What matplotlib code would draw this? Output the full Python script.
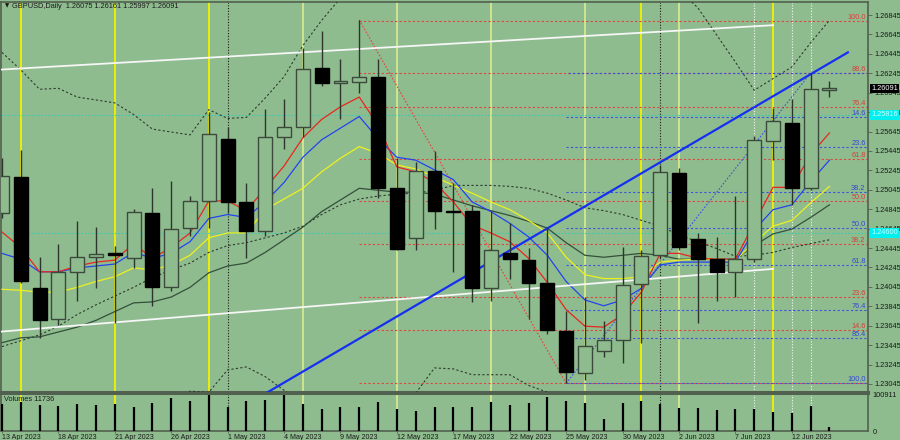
import numpy as np
import matplotlib
matplotlib.use('Agg')
import matplotlib.pyplot as plt

plt.rcParams['font.family'] = ['Liberation Sans', 'DejaVu Sans']

# ---- data (GBPUSD daily, 13 Apr - 14 Jun 2023) ----
opens = [1.24806, 1.25177, 1.24034, 1.23714, 1.24198, 1.24353, 1.24394, 1.24343, 1.24806, 1.24044,
         1.24652, 1.24930, 1.25568, 1.24919, 1.24621, 1.25589, 1.25692, 1.26300, 1.26145, 1.26155,
         1.26207, 1.25064, 1.24549, 1.25239, 1.24827, 1.24827, 1.24034, 1.24394, 1.24322, 1.24085,
         1.23591, 1.23158, 1.23385, 1.23498, 1.24075, 1.24374, 1.25218, 1.24538, 1.24332, 1.24198,
         1.24332, 1.25548, 1.25733, 1.25064, 1.26075]
highs = [1.25373, 1.25455, 1.24353, 1.24487, 1.24724, 1.24662, 1.24466, 1.24847, 1.25064, 1.25136,
         1.24981, 1.25846, 1.25692, 1.25115, 1.25877, 1.25980, 1.26506, 1.26681, 1.26392, 1.26794,
         1.26392, 1.25373, 1.25331, 1.25445, 1.25115, 1.24889, 1.24827, 1.24703, 1.24446, 1.24662,
         1.23797, 1.23941, 1.23694, 1.24456, 1.24425, 1.25301, 1.25270, 1.24601, 1.24559, 1.24981,
         1.25599, 1.25888, 1.25980, 1.26248, 1.26161]
lows = [1.24755, 1.24085, 1.23519, 1.23653, 1.23900, 1.24034, 1.23673, 1.24240, 1.23848, 1.24003,
        1.24569, 1.24652, 1.24806, 1.24343, 1.24569, 1.25465, 1.25589, 1.26114, 1.25774, 1.26042,
        1.24961, 1.24425, 1.24425, 1.24641, 1.24198, 1.23889, 1.23900, 1.24126, 1.23714, 1.23560,
        1.23051, 1.23086, 1.23323, 1.23261, 1.23467, 1.24343, 1.24425, 1.23673, 1.23900, 1.23941,
        1.24301, 1.25352, 1.24889, 1.25043, 1.25997]
closes = [1.25187, 1.24106, 1.23704, 1.24198, 1.24353, 1.24384, 1.24374, 1.24816, 1.24044, 1.24641,
          1.24930, 1.25620, 1.24919, 1.24621, 1.25589, 1.25692, 1.26289, 1.26145, 1.26166, 1.26207,
          1.25064, 1.24435, 1.25239, 1.24827, 1.24816, 1.24034, 1.24425, 1.24332, 1.24085, 1.23601,
          1.23168, 1.23436, 1.23498, 1.24065, 1.24363, 1.25228, 1.24456, 1.24332, 1.24198, 1.24332,
          1.25558, 1.25754, 1.25064, 1.26083, 1.26091]
volumes = [75700, 81300, 72900, 70100, 75700, 72900, 75700, 67300, 78500, 92500,
           84100, 100200, 67300, 84100, 86900, 100911, 75700, 61700, 67300, 67300,
           81300, 61700, 56100, 67300, 67300, 67300, 81300, 72900, 78500, 95300,
           84100, 78500, 33600, 78500, 84100, 75700, 64500, 64500, 58900, 61700,
           61700, 53300, 50500, 70100, 11736]

ma_red = [1.2461, 1.2445, 1.2420, 1.2420, 1.2426, 1.2430, 1.2432, 1.2449, 1.2434, 1.2445,
          1.2460, 1.2493, 1.2493, 1.2483, 1.2506, 1.2529, 1.2558, 1.2577, 1.2590, 1.2600,
          1.2571, 1.2528, 1.2523, 1.2512, 1.2492, 1.2468, 1.2460, 1.2451, 1.2434, 1.2409,
          1.2381, 1.2364, 1.2363, 1.2376, 1.2399, 1.2439, 1.2439, 1.2434, 1.2433, 1.2433,
          1.2470, 1.2507, 1.2507, 1.2541, 1.2563]
ma_blue = [1.2439, 1.2433, 1.2420, 1.2420, 1.2424, 1.2426, 1.2428, 1.2440, 1.2434, 1.2439,
           1.2451, 1.2475, 1.2479, 1.2476, 1.2492, 1.2512, 1.2538, 1.2556, 1.2568, 1.2580,
           1.2557, 1.2538, 1.2535, 1.2525, 1.2515, 1.2492, 1.2482, 1.2470, 1.2456, 1.2437,
           1.2410, 1.2391, 1.2385, 1.2391, 1.2403, 1.2427, 1.2430, 1.2430, 1.2430, 1.2430,
           1.2463, 1.2484, 1.2489, 1.2513, 1.2535]
ma_yellow = [1.2402, 1.2401, 1.2399, 1.2399, 1.2404, 1.2410, 1.2415, 1.2424, 1.2422, 1.2427,
             1.2437, 1.2455, 1.2460, 1.2460, 1.2484, 1.2495, 1.2506, 1.2523, 1.2537, 1.2549,
             1.2542, 1.2530, 1.2526, 1.2518, 1.2509, 1.2501, 1.2492, 1.2484, 1.2473, 1.2460,
             1.2435, 1.2417, 1.2413, 1.2413, 1.2415, 1.2430, 1.2432, 1.2433, 1.2433, 1.2432,
             1.2450, 1.2467, 1.2473, 1.2491, 1.2508]
ma_slow = [1.2347, 1.2352, 1.2353, 1.2358, 1.2363, 1.2370, 1.2379, 1.2388, 1.2389, 1.2394,
           1.2404, 1.2419, 1.2426, 1.2429, 1.2440, 1.2453, 1.2466, 1.2482, 1.2494, 1.2506,
           1.2504, 1.2502, 1.2502, 1.2500, 1.2494, 1.2488, 1.2483, 1.2478, 1.2472, 1.2465,
           1.2450, 1.2437, 1.2435, 1.2437, 1.2439, 1.2437, 1.2433, 1.2433, 1.2433, 1.2433,
           1.2447, 1.2459, 1.2464, 1.2476, 1.2489]
bb_mid = [1.2343, 1.2349, 1.2355, 1.2364, 1.2376, 1.2386, 1.2395, 1.2404, 1.2414, 1.2422,
          1.2429, 1.2440, 1.2447, 1.2450, 1.2455, 1.2460, 1.2467, 1.2479, 1.2489, 1.2495,
          1.2498, 1.2500, 1.2501, 1.2504, 1.2509, 1.2509, 1.2509, 1.2508, 1.2506, 1.2501,
          1.2494, 1.2486, 1.2483, 1.2479, 1.2473, 1.2467, 1.2458, 1.2451, 1.2444, 1.2436,
          1.2437, 1.2440, 1.2445, 1.2449, 1.2453]
bb_up = [1.2646, 1.2628, 1.2608, 1.2609, 1.2600, 1.2597, 1.2594, 1.2582, 1.2567, 1.2564,
         1.2561, 1.2587, 1.2578, 1.2579, 1.2599, 1.2621, 1.2653, 1.2679, 1.2702, 1.2712,
         1.2715, 1.2715, 1.2712, 1.2708, 1.2705, 1.2705, 1.2706, 1.2706, 1.2710, 1.2721,
         1.2736, 1.2746, 1.2746, 1.2741, 1.2736, 1.2726, 1.2710, 1.2692, 1.2664, 1.2636,
         1.2607, 1.2619, 1.2631, 1.2656, 1.2679]
bb_low = [1.2039, 1.2070, 1.2102, 1.2119, 1.2151, 1.2175, 1.2196, 1.2227, 1.2260, 1.2280,
          1.2297, 1.2296, 1.2319, 1.2322, 1.2312, 1.2298, 1.2282, 1.2278, 1.2276, 1.2278,
          1.2283, 1.2290, 1.2295, 1.2321, 1.2320, 1.2314, 1.2314, 1.2314, 1.2303, 1.2296,
          1.2252, 1.2225, 1.2219, 1.2216, 1.2211, 1.2209, 1.2206, 1.2210, 1.2223, 1.2237,
          1.2267, 1.2262, 1.2258, 1.2242, 1.2226]

date_ticks = [0, 3, 6, 9, 12, 15, 18, 21, 24, 27, 30, 33, 36, 39, 42]
date_labels = ['13 Apr 2023', '18 Apr 2023', '21 Apr 2023', '26 Apr 2023', '1 May 2023',
               '4 May 2023', '9 May 2023', '12 May 2023', '17 May 2023', '22 May 2023',
               '25 May 2023', '30 May 2023', '2 Jun 2023', '7 Jun 2023', '12 Jun 2023']
price_ticks = [1.26845, 1.26645, 1.26445, 1.26245, 1.26045, 1.25845, 1.25645, 1.25445, 1.25245,
               1.25045, 1.24845, 1.24645, 1.24445, 1.24245, 1.24045, 1.23845, 1.23645, 1.23445,
               1.23245, 1.23045]

# fibonacci retracements (labels and levels as read on the chart)
red_fib_labels = ['100.0', '88.6', '76.4', '61.8', '50.0', '38.2', '23.6', '14.6']
red_fib_prices = [1.26784, 1.26248, 1.25898, 1.25362, 1.24930, 1.24487, 1.23941, 1.23601]
blue_fib_labels = ['14.6', '23.6', '38.2', '50.0', '61.8', '76.4', '85.4', '100.0']
blue_fib_prices = [1.25795, 1.25486, 1.25022, 1.24652, 1.24271, 1.23807, 1.23519, 1.23051]
red_fib_swing = ([19, 30], [1.26794, 1.23051])
blue_fib_swing = ([30, 43], [1.23051, 1.26248])

# trend lines / channel
blue_trend = ([14.13, 44.98], [1.2296, 1.2646])
white_upper = ([-0.3, 41], [1.2628, 1.2674])
white_lower = ([-0.3, 41], [1.2358, 1.2423])
cyan_levels = [1.25816, 1.24600]

# vertical markers
yellow_bright = [1, 6, 11, 34, 41]
yellow_pale = [16, 21, 26, 31, 36]
month_sep = [12, 35]
white_marks = [40, 42, 43]

BG = '#8fbc8f'
FRAME = '#52614f'
DARK = '#2e3a2e'

W, H = 900, 440
fig = plt.figure(figsize=(9, 4.4), dpi=100)
fig.patch.set_facecolor(BG)
ax = fig.add_axes([1 / W, 1 - 392 / H, 867 / W, 390 / H])
axv = fig.add_axes([1 / W, 1 - 431 / H, 867 / W, 38 / H], sharex=ax)

x = np.arange(len(opens))
for a in (ax, axv):
    a.set_facecolor(BG)
    for s in a.spines.values():
        s.set_color(FRAME)
        s.set_linewidth(1.2)
    for v in yellow_bright:
        a.axvline(v, color='#f2f200', lw=1.3, zorder=1)
    for v in yellow_pale:
        a.axvline(v, color='#d6e890', lw=1.3, zorder=1)
    for v in month_sep:
        a.axvline(v, color='#1a1a1a', lw=0.8, ls=(0, (1, 1.5)), zorder=1)
    for v in white_marks:
        a.axvline(v, color='#f4f4f4', lw=0.8, ls=(0, (1, 1.5)), zorder=1)
ax.spines['bottom'].set_linewidth(2.2)
axv.spines['top'].set_linewidth(2.2)

# horizontal levels
for p in cyan_levels:
    ax.axhline(p, color='#3fc8b4', lw=0.8, ls=(0, (1.5, 1.5)), zorder=1)
xr = 46.1
for lab, p in zip(red_fib_labels, red_fib_prices):
    ax.plot([red_fib_swing[0][0], xr], [p, p], color='#e0443c', lw=0.8, ls=(0, (2, 2)), zorder=2)
    ax.text(45.92, p, lab, color='#d8403a', fontsize=5.3, ha='right', va='bottom', zorder=6)
ax.plot([red_fib_swing[0][0], xr], [red_fib_swing[1][1]] * 2, color='#e0443c', lw=0.8,
        ls=(0, (2, 2)), zorder=2)
ax.plot([blue_fib_swing[0][0], xr], [blue_fib_swing[1][1]] * 2, color='#3a52e0', lw=0.8,
        ls=(2, (2, 2)), zorder=2)
for lab, p in zip(blue_fib_labels, blue_fib_prices):
    ax.plot([blue_fib_swing[0][0], xr], [p, p], color='#3a52e0', lw=0.8, ls=(0, (2, 2)), zorder=2)
    ax.text(45.92, p, lab, color='#3448d8', fontsize=5.3, ha='right', va='bottom', zorder=6)
ax.plot(*red_fib_swing, color='#e0443c', lw=0.8, ls=(0, (1.5, 1.5)), zorder=2)
ax.plot(*blue_fib_swing, color='#3a52e0', lw=0.8, ls=(0, (1.5, 1.5)), zorder=2)

# indicators
ax.plot(x, bb_up, color=DARK, lw=0.8, ls=(0, (2, 2)), zorder=3)
ax.plot(x, bb_low, color=DARK, lw=0.8, ls=(0, (2, 2)), zorder=3)
ax.plot(x, bb_mid, color=DARK, lw=0.8, ls=(0, (2, 2)), zorder=3)
ax.plot(x, ma_slow, color='#34503a', lw=0.9, zorder=3)
ax.plot(x, ma_yellow, color='#eef020', lw=0.9, zorder=3)
ax.plot(x, ma_blue, color='#2444ee', lw=0.9, zorder=3)
ax.plot(x, ma_red, color='#e8261e', lw=0.9, zorder=3)

# channel and trend lines
ax.plot(*white_upper, color='#f6f6f6', lw=1.3, zorder=4)
ax.plot(*white_lower, color='#f6f6f6', lw=1.3, zorder=4)
ax.plot(*blue_trend, color='#1530f0', lw=1.6, zorder=4)

# candles
bw = 0.74
for i in x:
    o, h, l, c = opens[i], highs[i], lows[i], closes[i]
    bull = c >= o
    ax.vlines(i, l, h, color='#2c362c', lw=1.0, zorder=5)
    lo_, hi_ = min(o, c), max(o, c)
    ax.add_patch(plt.Rectangle((i - bw / 2, lo_), bw, max(hi_ - lo_, 0.00004),
                               facecolor=BG if bull else 'black',
                               edgecolor='#3c4a3c' if bull else 'black', lw=1.0, zorder=5))

ax.set_xlim(-0.05, 46.05)
ax.set_ylim(1.22962, 1.26979)
ax.yaxis.tick_right()
ax.set_yticks(price_ticks)
ax.set_yticklabels(['%.5f' % p for p in price_ticks])
ax.tick_params(axis='y', length=3, width=0.6, color=FRAME, labelsize=5.3, pad=1.5,
               labelcolor='#1a1a1a')
ax.tick_params(axis='x', bottom=False, labelbottom=False)

# right-axis price markers
def marker(p, fc, tc):
    ax.annotate('%.5f' % p, xy=(1.0, p), xycoords=('axes fraction', 'data'),
                xytext=(2.5, 0), textcoords='offset points', fontsize=5.3, color=tc,
                va='center', ha='left', zorder=10, annotation_clip=False,
                bbox=dict(boxstyle='square,pad=0.15', fc=fc, ec='none'))

marker(closes[-1], 'black', 'white')
for p in cyan_levels:
    marker(p, '#00f0f0', '#c8ffff')

# volumes
axv.vlines(x, 0, volumes, color='black', lw=1.6, zorder=5)
axv.set_ylim(0, 106500)
axv.yaxis.tick_right()
axv.set_yticks([0, 100911])
axv.set_yticklabels(['0', '100911'])
axv.tick_params(axis='y', length=0, labelsize=5.3, pad=3.5, labelcolor='#1a1a1a')
axv.set_xticks(date_ticks)
axv.set_xticklabels(date_labels)
for t in axv.get_xticklabels():
    t.set_horizontalalignment('left')
axv.tick_params(axis='x', length=1.5, width=0.6, color=FRAME, labelsize=5.1, pad=0.3,
                labelcolor='#1a1a1a')
axv.text(0.003, 0.93, 'Volumes 11736', transform=axv.transAxes, fontsize=5.3,
         color='#1a1a1a', va='top', ha='left')

fig.text(5 / W, 1 - 6 / H, '\u25bc', fontsize=4, color='#1a1a1a', va='center', ha='left',
         family='DejaVu Sans')
fig.text(12 / W, 1 - 6 / H, 'GBPUSD,Daily  %.5f %.5f %.5f %.5f' % (opens[-1], highs[-1], lows[-1], closes[-1]),
         fontsize=5.3, color='#1a1a1a', va='center', ha='left')

fig.savefig('out.png', dpi=100, facecolor=BG)
